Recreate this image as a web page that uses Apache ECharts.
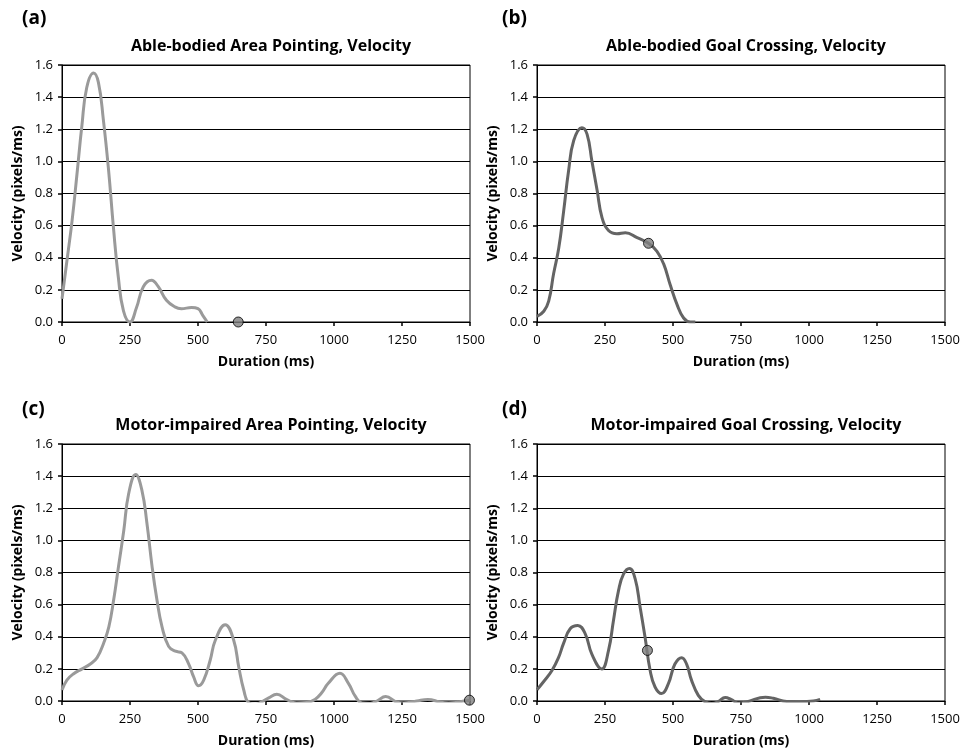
<!DOCTYPE html>
<html>
<head>
<meta charset="utf-8">
<script src="https://cdn.jsdelivr.net/npm/echarts@6/dist/echarts.min.js"></script>
<style>html,body{margin:0;padding:0;background:#fff}#c{width:966px;height:753px}</style>
</head>
<body>
<div id="c"></div>
<script>
// ---- Data ----
const panelLabels = ['(a)', '(b)', '(c)', '(d)'];
const panelTitles = [
  'Able-bodied Area Pointing, Velocity',
  'Able-bodied Goal Crossing, Velocity',
  'Motor-impaired Area Pointing, Velocity',
  'Motor-impaired Goal Crossing, Velocity'
];
const xTickValues = [0, 250, 500, 750, 1000, 1250, 1500];
const yTickValues = [0.0, 0.2, 0.4, 0.6, 0.8, 1.0, 1.2, 1.4, 1.6];

// (a) Able-bodied Area Pointing
const aDuration = [0, 18, 37, 55, 73, 91, 116, 134, 152, 171, 189, 207, 226, 250, 274, 299, 329, 354, 384, 415, 439, 476, 500, 518, 534];
const aVelocity = [0.145, 0.38, 0.63, 0.92, 1.22, 1.46, 1.55, 1.49, 1.26, 0.95, 0.59, 0.28, 0.07, 0.0, 0.09, 0.22, 0.26, 0.22, 0.135, 0.094, 0.083, 0.09, 0.083, 0.04, 0.0];
const aMarker = [648, 0.0];

// (b) Able-bodied Goal Crossing
const bDuration = [0, 25, 43, 61, 80, 98, 116, 135, 165, 184, 202, 221, 239, 263, 294, 325, 368, 410, 441, 466, 490, 515, 539, 564, 582];
const bVelocity = [0.035, 0.067, 0.13, 0.30, 0.46, 0.69, 0.94, 1.13, 1.21, 1.17, 1.00, 0.82, 0.65, 0.57, 0.55, 0.556, 0.525, 0.49, 0.44, 0.36, 0.23, 0.108, 0.025, 0.0, 0.0];
const bMarker = [410, 0.49];

// (c) Motor-impaired Area Pointing
const cDuration = [0, 18, 43, 74, 104, 129, 153, 172, 190, 208, 227, 245, 271, 294, 312, 331, 349, 368, 392, 417, 441, 466, 484, 502, 521, 545, 564, 600, 631, 650, 668, 686, 711, 735, 760, 790, 825, 862, 899, 930, 954, 979, 1022, 1053, 1078, 1102, 1133, 1158, 1190, 1232, 1256, 1281, 1305, 1345, 1392, 1422, 1453, 1478, 1500];
const cVelocity = [0.068, 0.13, 0.17, 0.20, 0.23, 0.27, 0.36, 0.46, 0.63, 0.84, 1.06, 1.29, 1.41, 1.31, 1.11, 0.84, 0.63, 0.46, 0.34, 0.31, 0.30, 0.23, 0.15, 0.095, 0.13, 0.255, 0.38, 0.475, 0.38, 0.21, 0.07, -0.01, -0.02, -0.005, 0.02, 0.042, 0.01, -0.012, -0.01, 0.01, 0.05, 0.11, 0.172, 0.11, 0.03, -0.012, -0.015, 0.0, 0.028, -0.008, -0.012, -0.008, 0.0, 0.01, -0.008, -0.012, -0.008, 0.0, 0.005];
const cMarker = [1498, 0.005];

// (d) Motor-impaired Goal Crossing
const dDuration = [0, 24, 55, 79, 98, 122, 150, 177, 202, 238, 263, 281, 300, 318, 340, 361, 379, 397, 416, 434, 458, 483, 507, 532, 550, 568, 593, 617, 642, 666, 692, 715, 740, 770, 840, 869, 918, 967, 1016, 1041];
const dVelocity = [0.07, 0.12, 0.19, 0.27, 0.36, 0.45, 0.47, 0.42, 0.29, 0.20, 0.315, 0.50, 0.69, 0.79, 0.825, 0.76, 0.585, 0.40, 0.19, 0.087, 0.046, 0.108, 0.23, 0.27, 0.23, 0.13, 0.035, -0.004, -0.015, -0.004, 0.022, 0.008, -0.012, -0.006, 0.024, 0.017, -0.003, -0.004, 0.0, 0.01];
const dMarker = [406, 0.315];

// ---- Build chart ----
const durations = [aDuration, bDuration, cDuration, dDuration];
const velocities = [aVelocity, bVelocity, cVelocity, dVelocity];
const markers = [aMarker, bMarker, cMarker, dMarker];
const lineColors = ['#9a9a9a', '#646464', '#9a9a9a', '#646464'];

const gridPos = [
  {left: 62, top: 65, width: 408, height: 257},
  {left: 537, top: 65, width: 408, height: 257},
  {left: 62, top: 444, width: 408, height: 257},
  {left: 537, top: 444, width: 408, height: 257}
];
const FONT = 'Open Sans';

const grids = [], xAxes = [], yAxes = [], series = [], titles = [];
for (let i = 0; i < 4; i++) {
  const g = gridPos[i];
  grids.push(Object.assign({show: true, borderColor: '#000', borderWidth: 1, backgroundColor: 'transparent'}, g));
  xAxes.push({
    type: 'value', gridIndex: i, min: xTickValues[0], max: xTickValues[xTickValues.length - 1],
    interval: xTickValues[1] - xTickValues[0],
    name: 'Duration (ms)', nameLocation: 'middle', nameGap: 33,
    nameTextStyle: {fontFamily: FONT, fontWeight: 'bold', fontSize: 14, color: '#000'},
    axisLine: {lineStyle: {color: '#000', width: 1}},
    axisTick: {show: true, length: 4, lineStyle: {color: '#000', width: 1.5}},
    axisLabel: {color: '#000', fontFamily: FONT, fontSize: 13, margin: 12, formatter: v => String(v)},
    splitLine: {show: false}
  });
  yAxes.push({
    type: 'value', gridIndex: i, min: yTickValues[0], max: yTickValues[yTickValues.length - 1],
    interval: 0.2,
    name: 'Velocity (pixels/ms)', nameLocation: 'middle', nameGap: 37, nameRotate: 90,
    nameTextStyle: {fontFamily: FONT, fontWeight: 'bold', fontSize: 14, color: '#000'},
    axisLine: {lineStyle: {color: '#000', width: 1}},
    axisTick: {show: true, length: 4, lineStyle: {color: '#000', width: 1.5}},
    axisLabel: {color: '#000', fontFamily: FONT, fontSize: 13, margin: 9, formatter: v => v.toFixed(1)},
    splitLine: {show: true, lineStyle: {color: '#000', width: 1}}
  });
  series.push({
    type: 'line', xAxisIndex: i, yAxisIndex: i,
    data: durations[i].map((d, k) => [d, velocities[i][k]]),
    smooth: 0.45, showSymbol: false, symbol: 'none',
    lineStyle: {color: lineColors[i], width: 3},
    z: 3, animation: false
  });
  series.push({
    type: 'scatter', xAxisIndex: i, yAxisIndex: i,
    data: [markers[i]], symbol: 'circle', symbolSize: 10,
    itemStyle: {color: '#808080', borderColor: '#000', borderWidth: 1},
    z: 5, animation: false
  });
  titles.push({
    text: panelTitles[i], left: g.left + g.width / 2, textAlign: 'center',
    top: g.top - 32,
    textStyle: {fontFamily: FONT, fontWeight: 'bold', fontSize: 16, color: '#000'}
  });
  titles.push({
    text: panelLabels[i], left: i % 2 === 0 ? 17 : 497, top: i < 2 ? 4 : 395,
    textStyle: {fontFamily: FONT, fontWeight: 'bold', fontSize: 19, color: '#000'}
  });
}

const chart = echarts.init(document.getElementById('c'), null, {renderer: 'canvas'});
chart.setOption({
  animation: false,
  backgroundColor: '#fff',
  title: titles,
  grid: grids,
  xAxis: xAxes,
  yAxis: yAxes,
  series: series
});
</script>
</body>
</html>
